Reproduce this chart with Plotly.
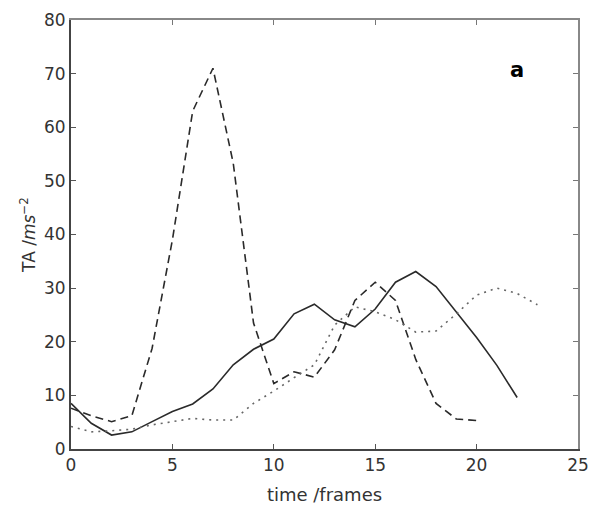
import plotly.graph_objects as go

frames_solid = list(range(0, 23))
ta_solid = [8.5, 4.8, 2.6, 3.2, 5.1, 7.0, 8.4, 11.2, 15.7, 18.6, 20.5, 25.2, 27.0, 24.1, 22.8, 26.1,
            31.1, 33.1, 30.3, 25.6, 20.8, 15.6, 9.6]
frames_dash = list(range(0, 21))
ta_dash = [7.6, 6.2, 5.1, 6.2, 18.8, 39.0, 63.0, 71.0, 53.3, 23.5, 12.2, 14.4, 13.4, 18.5, 27.7,
           31.1, 27.7, 16.7, 8.5, 5.6, 5.3]
frames_dot = list(range(0, 24))
ta_dot = [4.2, 3.2, 3.4, 3.7, 4.5, 5.1, 5.7, 5.4, 5.4, 8.5, 10.8, 13.3, 15.7, 23.1, 26.5, 25.6,
          24.1, 21.8, 22.0, 25.2, 28.7, 30.0, 29.0, 26.9]

x_ticks = [0, 5, 10, 15, 20, 25]
y_ticks = [0, 10, 20, 30, 40, 50, 60, 70, 80]

fig = go.Figure()
fig.add_trace(go.Scatter(x=frames_solid, y=ta_solid, mode="lines",
                         line=dict(color="#2a2a2a", width=1.6), showlegend=False))
fig.add_trace(go.Scatter(x=frames_dash, y=ta_dash, mode="lines",
                         line=dict(color="#2a2a2a", width=1.6, dash="8px,5px"), showlegend=False))
fig.add_trace(go.Scatter(x=frames_dot, y=ta_dot, mode="lines",
                         line=dict(color="#666666", width=1.6, dash="2px,5px"), showlegend=False))

tickfont = dict(family="DejaVu Sans", size=17, color="#333333")
fig.update_layout(
    width=592, height=510,
    margin=dict(l=71, r=14, t=20, b=61),
    paper_bgcolor="white", plot_bgcolor="white",
    font=dict(family="DejaVu Sans", color="#333333"),
    xaxis=dict(range=[0, 25], tickvals=x_ticks, ticks="inside", ticklen=5, tickcolor="#555",
               showgrid=False, zeroline=False, showline=True, linecolor="#444", linewidth=2,
               tickfont=tickfont, automargin=False,
               title=dict(text="time /frames", font=dict(family="DejaVu Sans", size=18, color="#333"),
                          standoff=14)),
    yaxis=dict(range=[0, 80], tickvals=y_ticks, ticks="inside", ticklen=5, tickcolor="#555",
               showgrid=False, zeroline=False, showline=True, linecolor="#444", linewidth=2,
               tickfont=tickfont, automargin=False,
               title=dict(text="TA /<i>ms</i><sup>−2</sup>",
                          font=dict(family="DejaVu Sans", size=17, color="#333"), standoff=4)),
    xaxis2=dict(range=[0, 25], tickvals=x_ticks, overlaying="x", side="top", ticks="inside",
                ticklen=5, tickcolor="#777", showticklabels=False, showgrid=False, zeroline=False,
                showline=True, linecolor="#888", linewidth=1.5, matches="x", automargin=False),
    yaxis2=dict(range=[0, 80], tickvals=y_ticks, overlaying="y", side="right", ticks="inside",
                ticklen=5, tickcolor="#777", showticklabels=False, showgrid=False, zeroline=False,
                showline=True, linecolor="#888", linewidth=1.5, matches="y", automargin=False),
)
fig.add_trace(go.Scatter(x=[None], y=[None], xaxis="x2", yaxis="y2", showlegend=False))
fig.add_annotation(x=22, y=70.7, text="<b>a</b>", showarrow=False,
                   font=dict(family="DejaVu Sans", size=21, color="black"))
fig.write_html("out.html")
